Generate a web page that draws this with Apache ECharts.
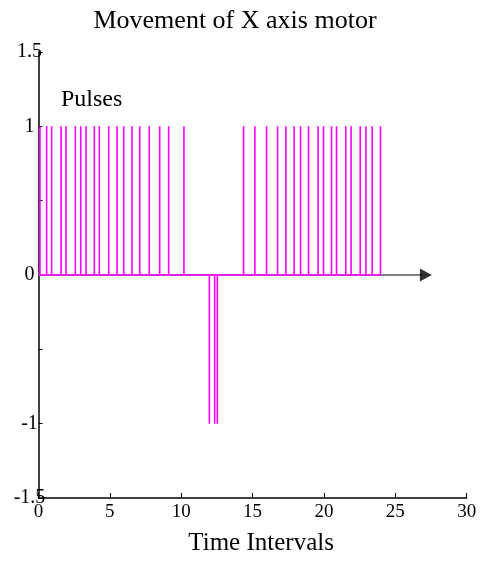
<!DOCTYPE html>
<html>
<head>
<meta charset="utf-8">
<script src="https://cdn.jsdelivr.net/npm/echarts@6/dist/echarts.min.js"></script>
<style>html,body{margin:0;padding:0;background:#fff;}#c{width:481px;height:561px;}</style>
</head>
<body>
<div id="c"></div>
<script>
// Data
var positivePulseTimes = [0.1, 0.57, 0.92, 1.58, 1.93, 2.58, 2.96, 3.33, 3.91, 4.26, 4.92, 5.5, 5.97, 6.55, 7.09, 7.76, 8.49, 9.12, 10.19,
  14.37, 15.16, 15.98, 16.75, 17.33, 17.91, 18.36, 18.92, 19.59, 19.97, 20.53, 20.88, 21.53, 21.9, 22.54, 22.94, 23.38, 23.96];
var negativePulseTimes = [11.97, 12.34, 12.53];
var pulseHigh = 1;
var pulseLow = -1;
var baselineEnd = 26.9;
var arrowAt = 27.14;
var yLabelValues = [1.5, 1, 0, -1, -1.5];

var FONT = "'Liberation Serif','Times New Roman',serif";

var pulses = [];
positivePulseTimes.forEach(function (t) { pulses.push([t, pulseHigh]); });
negativePulseTimes.forEach(function (t) { pulses.push([t, pulseLow]); });
pulses.sort(function (a, b) { return a[0] - b[0]; });
var wave = [];
pulses.forEach(function (p) { wave.push([p[0], 0], [p[0], p[1]], [p[0], 0]); });

var chart = echarts.init(document.getElementById('c'), null, {renderer: 'canvas'});
chart.setOption({
  backgroundColor: '#fff',
  animation: false,
  grid: {left: 38.5, right: 14.3, top: 52, bottom: 61, containLabel: false},
  xAxis: {
    type: 'value', min: 0, max: 30, interval: 5,
    axisLine: {onZero: false, lineStyle: {color: '#000', width: 1.5}},
    axisTick: {inside: true, length: 5, lineStyle: {color: '#000', width: 1}},
    axisLabel: {color: '#000', fontFamily: FONT, fontSize: 19, margin: 5},
    splitLine: {show: false},
    name: 'Time Intervals', nameLocation: 'middle', nameGap: 33,
    nameTextStyle: {color: '#000', fontFamily: FONT, fontSize: 25, padding: [0, 0, 0, 17]}
  },
  yAxis: {
    type: 'value', min: -1.5, max: 1.5, interval: 0.5,
    axisLine: {lineStyle: {color: '#000', width: 1.5}},
    axisTick: {inside: true, length: 4, lineStyle: {color: '#000', width: 1}},
    axisLabel: {
      color: '#000', fontFamily: FONT, fontSize: 20, margin: 9, align: 'center',
      padding: [0, 0, 8, 0],
      formatter: function (v) { return yLabelValues.indexOf(v) >= 0 ? String(v) : ''; }
    },
    splitLine: {show: false}
  },
  graphic: [
    {type: 'text', x: 235, y: 21.5, style: {text: 'Movement of X axis motor', font: '26px ' + FONT, fill: '#000', textAlign: 'center', textVerticalAlign: 'middle'}},
    {type: 'text', x: 61, y: 100, style: {text: 'Pulses', font: '24px ' + FONT, fill: '#000', textAlign: 'left', textVerticalAlign: 'middle'}}
  ],
  series: [
    {
      type: 'line', data: [[0, 0], [baselineEnd, 0]], symbol: 'none', silent: true,
      lineStyle: {color: '#808080', width: 2}, z: 1
    },
    {
      type: 'scatter', data: [[arrowAt, 0]], symbol: 'triangle', symbolSize: [13, 12], symbolRotate: -90,
      itemStyle: {color: '#000'}, silent: true, z: 1
    },
    {
      type: 'line', data: wave, symbol: 'none', silent: true,
      lineStyle: {color: '#ff00ff', width: 1.6}, z: 2
    }
  ]
});
</script>
</body>
</html>
